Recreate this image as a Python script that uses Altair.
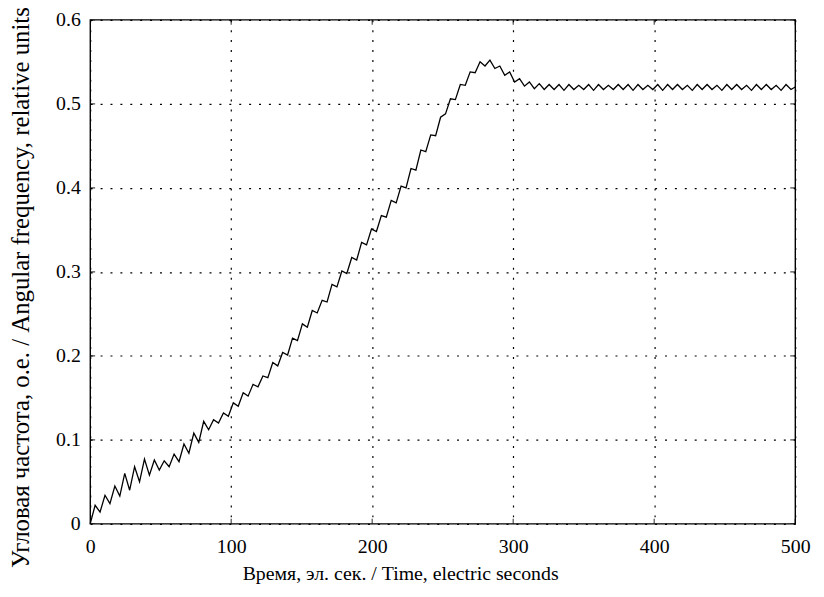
import altair as alt
import pandas as pd

# Time samples (electric seconds)
time_s = [
    0, 3.5, 7, 10.5, 14, 17.5, 21, 24.5, 28, 31.5, 35, 38.5, 42, 45.5, 49, 52.5,
    56, 59.5, 63, 66.5, 70, 73.5, 77, 80.5, 84, 87.5, 91, 94.5, 98, 101.5, 105,
    108.5, 112, 115.5, 119, 122.5, 126, 129.5, 133, 136.5, 140, 143.5, 147, 150.5,
    154, 157.5, 161, 164.5, 168, 171.5, 175, 178.5, 182, 185.5, 189, 192.5, 196,
    199.5, 203, 206.5, 210, 213.5, 217, 220.5, 224, 227.5, 231, 234.5, 238, 241.5,
    245, 248.5, 252, 255.5, 259, 262.5, 266, 269.5, 273, 276.5, 280, 283.5, 287,
    290.5, 294, 297.5, 301, 304.5, 308, 311.5, 315, 318.5, 322, 325.5, 329, 332.5,
    336, 339.5, 343, 346.5, 350, 353.5, 357, 360.5, 364, 367.5, 371, 374.5, 378,
    381.5, 385, 388.5, 392, 395.5, 399, 402.5, 406, 409.5, 413, 416.5, 420, 423.5,
    427, 430.5, 434, 437.5, 441, 444.5, 448, 451.5, 455, 458.5, 462, 465.5, 469,
    472.5, 476, 479.5, 483, 486.5, 490, 493.5, 497, 500,
]

# Angular frequency (relative units)
omega = [
    0.000, 0.022, 0.014, 0.034, 0.024, 0.045, 0.033, 0.060, 0.040, 0.068, 0.050,
    0.077, 0.058, 0.076, 0.064, 0.075, 0.068, 0.083, 0.074, 0.095, 0.084, 0.108,
    0.097, 0.122, 0.112, 0.124, 0.120, 0.132, 0.128, 0.144, 0.140, 0.156, 0.152,
    0.166, 0.163, 0.176, 0.174, 0.192, 0.188, 0.204, 0.201, 0.221, 0.218, 0.238,
    0.234, 0.254, 0.251, 0.266, 0.264, 0.285, 0.282, 0.301, 0.298, 0.317, 0.314,
    0.335, 0.332, 0.351, 0.348, 0.367, 0.365, 0.385, 0.382, 0.402, 0.400, 0.423,
    0.421, 0.445, 0.443, 0.463, 0.462, 0.484, 0.488, 0.506, 0.505, 0.523, 0.522,
    0.538, 0.537, 0.550, 0.545, 0.552, 0.542, 0.545, 0.534, 0.538, 0.526, 0.530,
    0.521, 0.526, 0.518, 0.524, 0.517, 0.523, 0.517, 0.523, 0.516, 0.523, 0.517,
    0.522, 0.517, 0.523, 0.516, 0.523, 0.517, 0.522, 0.517, 0.523, 0.517, 0.523,
    0.516, 0.523, 0.517, 0.522, 0.517, 0.523, 0.516, 0.523, 0.517, 0.523, 0.517,
    0.522, 0.516, 0.523, 0.517, 0.523, 0.517, 0.522, 0.516, 0.523, 0.517, 0.523,
    0.517, 0.522, 0.516, 0.523, 0.517, 0.523, 0.517, 0.522, 0.516, 0.523, 0.517,
    0.520,
]

x_ticks = [0, 100, 200, 300, 400, 500]
y_ticks = [0, 0.1, 0.2, 0.3, 0.4, 0.5, 0.6]

x_title = "Время, эл. сек. / Time, electric seconds"
y_title = "Угловая частота, о.е. / Angular frequency, relative units"

df = pd.DataFrame({"t": time_s, "w": omega})
FONT = "Liberation Serif"

xs = alt.Scale(domain=[0, 500], nice=False)
ys = alt.Scale(domain=[0, 0.6], nice=False)

line = alt.Chart(df).mark_line(color="black", strokeWidth=1.3).encode(
    x=alt.X("t:Q", scale=xs,
            axis=alt.Axis(values=x_ticks, title=x_title, grid=True, ticks=False,
                          domain=False, labelPadding=13, labelFontSize=20,
                          labelFlush=False, labelOverlap=False,
                          titleFontSize=20, titleFontWeight="normal",
                          titleX=313, titleY=40, titleAlign="center")),
    y=alt.Y("w:Q", scale=ys,
            axis=alt.Axis(values=y_ticks, title=y_title, grid=True, ticks=False,
                          domain=False, labelPadding=10, labelFontSize=20,
                          labelFlush=False, labelOverlap=False,
                          labelExpr="datum.value == 0 ? '0' : format(datum.value, '.1f')",
                          titleFontSize=25, titleFontWeight="normal",
                          titleX=-62, titleY=270, titleAlign="center",
                          titleBaseline="alphabetic")),
)

xt = pd.DataFrame({"x": x_ticks})
yt = pd.DataFrame({"y": y_ticks})

tick_style = dict(size=10, color="black", thickness=1.2, clip=True)

bottom_ticks = alt.Chart(xt).mark_tick(orient="vertical", **tick_style).encode(
    x=alt.X("x:Q", scale=xs), y=alt.Y("z:Q", scale=ys)
).transform_calculate(z="0")
top_ticks = alt.Chart(xt).mark_tick(orient="vertical", **tick_style).encode(
    x=alt.X("x:Q", scale=xs), y=alt.Y("z:Q", scale=ys)
).transform_calculate(z="0.6")
left_ticks = alt.Chart(yt).mark_tick(orient="horizontal", **tick_style).encode(
    y=alt.Y("y:Q", scale=ys), x=alt.X("z:Q", scale=xs)
).transform_calculate(z="0")
right_ticks = alt.Chart(yt).mark_tick(orient="horizontal", **tick_style).encode(
    y=alt.Y("y:Q", scale=ys), x=alt.X("z:Q", scale=xs)
).transform_calculate(z="500")

chart = alt.layer(line, bottom_ticks, top_ticks, left_ticks, right_ticks).properties(
    width=712, height=509,
    autosize=alt.AutoSizeParams(type="none"),
    padding={"left": 83, "top": 9, "right": 21, "bottom": 71},
    background="white",
).configure_view(
    stroke="black", strokeWidth=1.4
).configure_axis(
    gridColor="black", gridDash=[2, 8], gridWidth=1.2, gridOpacity=1,
    labelFont=FONT, titleFont=FONT, labelColor="black", titleColor="black",
)

chart.save("out.html", embed_options={"renderer": "svg", "actions": False})
